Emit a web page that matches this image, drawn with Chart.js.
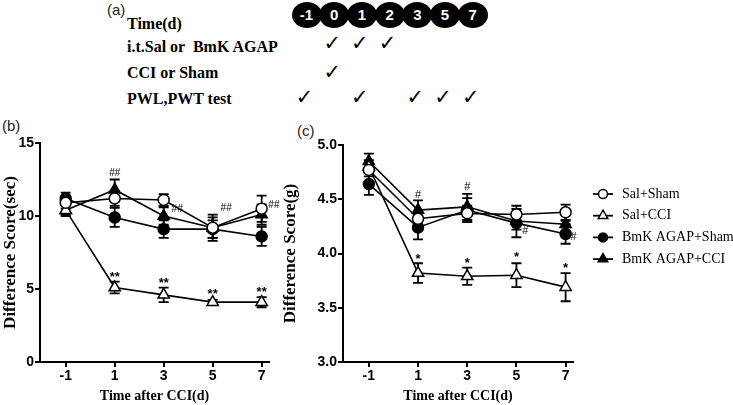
<!DOCTYPE html>
<html lang="en">
<head>
<meta charset="UTF-8">
<title>BmK AGAP – PWL / PWT difference scores</title>
<script src="https://cdn.jsdelivr.net/npm/chart.js"></script>
<style>
    body { margin: 0; background: #fff; width: 733px; height: 405px; position: relative; overflow: hidden;
           font-family: 'Liberation Sans', Arial, sans-serif; color: #000; }
    canvas { position: absolute; }
    .panel-label { position: absolute; font-size: 15px; color: #222; }
    .row-label { position: absolute; left: 127px; font-family: 'Liberation Serif', serif; font-weight: bold;
                 font-size: 16px; white-space: pre; transform: translateY(-50%); }
    .day { position: absolute; width: 30px; height: 26px; border-radius: 50%; background: #000; color: #fff;
           font-weight: bold; font-size: 15px; text-align: center; line-height: 26px; transform: translate(-50%, -50%); }
    .check { position: absolute; font-family: 'DejaVu Sans', sans-serif; font-weight: bold; font-size: 21px;
             transform: translate(-50%, -50%); }
</style>
</head>
<body>
    <div class="panel-label" style="left:107px; top:1px;">(a)</div>
    <div class="panel-label" style="left:2px; top:117px;">(b)</div>
    <div class="panel-label" style="left:297px; top:122px;">(c)</div>
    <div id="timeline"></div>
    <canvas id="chartB" width="285" height="295" style="left:0; top:110px;"></canvas>
    <canvas id="chartC" width="453" height="295" style="left:280px; top:110px;"></canvas>

<script>
    // ---- panel (a): protocol timeline ----
    const timelineDays = ['-1', '0', '1', '2', '3', '5', '7'];
    const rowLabels = ['Time(d)', 'i.t.Sal or  BmK AGAP', 'CCI or Sham', 'PWL,PWT test'];
    const rowChecks = [['0', '1', '2'], ['0'], ['-1', '1', '3', '5', '7']];

    // ---- shared x axis ----
    const days = [-1, 1, 3, 5, 7];
    const seriesNames = ['Sal+Sham', 'Sal+CCI', 'BmK AGAP+Sham', 'BmK AGAP+CCI'];

    // ---- panel (b): thermal, sec ----
    const pwlSalSham = [10.9, 11.2, 11.1, 9.2, 10.5];
    const pwlSalShamErr = [0.4, 0.5, 0.4, 0.7, 0.9];
    const pwlSalCci = [10.4, 5.1, 4.6, 4.1, 4.1];
    const pwlSalCciErr = [0.3, 0.4, 0.5, 0.15, 0.35];
    const pwlAgapSham = [11.2, 9.9, 9.1, 9.1, 8.6];
    const pwlAgapShamErr = [0.4, 0.65, 0.6, 0.6, 0.65];
    const pwlAgapCci = [10.4, 11.8, 10.0, 9.2, 10.1];
    const pwlAgapCciErr = [0.4, 0.7, 0.6, 0.9, 0.7];
    const yTicksB = [0, 5, 10, 15];
    const sigB = [
        { text: '##', x: 1, y: 12.9 }, { text: '##', x: 3.55, y: 10.45 },
        { text: '##', x: 5.55, y: 10.55 }, { text: '##', x: 7.5, y: 10.75 },
        { text: '**', x: 1, y: 5.8 }, { text: '**', x: 3, y: 5.35 },
        { text: '**', x: 5, y: 4.6 }, { text: '**', x: 7, y: 4.75 }
    ];

    // ---- panel (c): mechanical, g ----
    const pwtSalSham = [4.77, 4.32, 4.37, 4.36, 4.38];
    const pwtSalShamErr = [0.06, 0.06, 0.07, 0.08, 0.07];
    const pwtSalCci = [4.80, 3.82, 3.79, 3.80, 3.69];
    const pwtSalCciErr = [0.06, 0.09, 0.08, 0.11, 0.13];
    const pwtAgapSham = [4.64, 4.24, 4.40, 4.28, 4.18];
    const pwtAgapShamErr = [0.10, 0.11, 0.11, 0.13, 0.09];
    const pwtAgapCci = [4.85, 4.40, 4.43, 4.30, 4.27];
    const pwtAgapCciErr = [0.07, 0.09, 0.12, 0.08, 0.03];
    const yTicksC = [3.0, 3.5, 4.0, 4.5, 5.0];
    const sigC = [
        { text: '#', x: 1, y: 4.54 }, { text: '#', x: 3, y: 4.61 },
        { text: '#', x: 5.36, y: 4.21 }, { text: '#', x: 7.32, y: 4.15 },
        { text: '*', x: 1, y: 3.95 }, { text: '*', x: 3, y: 3.91 },
        { text: '*', x: 5, y: 3.96 }, { text: '*', x: 7, y: 3.86 }
    ];

    // build the timeline
    const tl = document.getElementById('timeline');
    const dayX = d => 306.5 + timelineDays.indexOf(d) * 27.7;
    timelineDays.forEach(d => {
        const el = document.createElement('div');
        el.className = 'day';
        el.textContent = d;
        el.style.left = dayX(d) + 'px';
        el.style.top = '15px';
        tl.appendChild(el);
    });
    const rowY = [24, 47, 73, 99];
    const checkY = [43, 72, 97];
    rowLabels.forEach((t, i) => {
        const el = document.createElement('div');
        el.className = 'row-label';
        el.textContent = t;
        el.style.top = rowY[i] + 'px';
        tl.appendChild(el);
    });
    rowChecks.forEach((row, i) => {
        row.forEach(d => {
            const el = document.createElement('div');
            el.className = 'check';
            el.textContent = '\u2713';
            el.style.left = (dayX(d) - 2) + 'px';
            el.style.top = checkY[i] + 'px';
            tl.appendChild(el);
        });
    });

    // error bars (mean ± SEM)
    const errorBars = {
        id: 'errorBars',
        beforeDatasetsDraw(chart) {
            const { ctx, scales: { x, y } } = chart;
            ctx.save();
            ctx.strokeStyle = '#000';
            ctx.lineWidth = 1.8;
            chart.data.datasets.forEach(ds => {
                ds.data.forEach((p, i) => {
                    const e = ds.err[i];
                    const px = x.getPixelForValue(p.x);
                    const top = y.getPixelForValue(p.y + e);
                    const bot = y.getPixelForValue(p.y - e);
                    ctx.beginPath();
                    ctx.moveTo(px, top); ctx.lineTo(px, bot);
                    ctx.moveTo(px - 5, top); ctx.lineTo(px + 5, top);
                    ctx.moveTo(px - 5, bot); ctx.lineTo(px + 5, bot);
                    ctx.stroke();
                });
            });
            ctx.restore();
        }
    };

    const sigMarks = {
        id: 'sigMarks',
        afterDatasetsDraw(chart, args, opts) {
            const { ctx, scales: { x, y } } = chart;
            ctx.save();
            ctx.fillStyle = '#000';
            ctx.textAlign = 'center';
            ctx.textBaseline = 'middle';
            opts.items.forEach(it => {
                ctx.font = it.text.startsWith('#') ? opts.hashFont : opts.starFont;
                ctx.fillText(it.text, x.getPixelForValue(it.x), y.getPixelForValue(it.y));
            });
            ctx.restore();
        }
    };

    const sideLegend = {
        id: 'sideLegend',
        afterDraw(chart, args, opts) {
            if (!opts.show) return;
            const ctx = chart.ctx;
            ctx.save();
            chart.data.datasets.forEach((ds, i) => {
                const y = opts.top + i * opts.gap;
                ctx.strokeStyle = '#000';
                ctx.lineWidth = 1.8;
                ctx.beginPath();
                ctx.moveTo(opts.left, y); ctx.lineTo(opts.left + 20, y);
                ctx.stroke();
                ctx.fillStyle = ds.pointBackgroundColor;
                ctx.lineWidth = 1.5;
                Chart.helpers.drawPoint(ctx, { pointStyle: ds.pointStyle, radius: ds.pointStyle === 'triangle' ? 5.5 : 4.5, rotation: 0, borderWidth: 1.5 }, opts.left + 10, y);
                ctx.fillStyle = '#000';
                ctx.font = "14px 'Liberation Serif'";
                ctx.textAlign = 'left';
                ctx.textBaseline = 'middle';
                ctx.fillText(ds.label, opts.left + 29, y);
            });
            ctx.restore();
        }
    };

    const markerStyles = [
        { pointStyle: 'circle', fill: '#fff', radius: 5.5 },
        { pointStyle: 'triangle', fill: '#fff', radius: 6.5 },
        { pointStyle: 'circle', fill: '#000', radius: 5.5 },
        { pointStyle: 'triangle', fill: '#000', radius: 6.5 }
    ];

    function makeDatasets(values, errors) {
        return values.map((vals, i) => ({
            label: seriesNames[i],
            data: vals.map((v, j) => ({ x: days[j], y: v })),
            err: errors[i],
            borderColor: '#000',
            borderWidth: 1.6,
            pointStyle: markerStyles[i].pointStyle,
            pointRadius: markerStyles[i].radius,
            pointBackgroundColor: markerStyles[i].fill,
            pointBorderColor: '#000',
            pointBorderWidth: 1.5,
            tension: 0
        }));
    }

    function makePanel(id, cfg) {
        const tickFont = { family: 'Liberation Sans', size: 14, weight: 'bold' };
        const xTitleFont = { family: 'Liberation Serif', size: 14, weight: 'bold' };
        const yTitleFont = { family: 'Liberation Serif', size: 17, weight: 'bold' };
        return new Chart(document.getElementById(id), {
            type: 'line',
            data: { datasets: makeDatasets(cfg.values, cfg.errors) },
            options: {
                responsive: false,
                animation: false,
                layout: { padding: { top: cfg.padTop, right: cfg.padRight, left: 0, bottom: 0 } },
                plugins: {
                    legend: { display: false },
                    tooltip: { enabled: false },
                    sigMarks: { items: cfg.sig, hashFont: cfg.hashFont, starFont: cfg.starFont },
                    sideLegend: { show: !!cfg.legend, ...(cfg.legend || {}) }
                },
                scales: {
                    x: {
                        type: 'linear', min: -2.05, max: 7.3,
                        afterBuildTicks: s => { s.ticks = days.map(v => ({ value: v })); },
                        afterFit: s => { s.height = 43; },
                        border: { color: '#000', width: 2 },
                        grid: { drawOnChartArea: false, drawTicks: true, tickLength: 5, color: '#000', lineWidth: 2 },
                        ticks: { color: '#000', font: tickFont, padding: 1, maxRotation: 0 },
                        title: { display: true, text: 'Time after CCI(d)', color: '#000', font: xTitleFont, padding: { top: 1, bottom: 0 } }
                    },
                    y: {
                        min: cfg.yMin, max: cfg.yMax,
                        afterBuildTicks: s => { s.ticks = cfg.yTicks.map(v => ({ value: v })); },
                        afterFit: s => { s.width = cfg.yWidth; },
                        border: { color: '#000', width: 2 },
                        grid: { drawOnChartArea: false, drawTicks: true, tickLength: 5, color: '#000', lineWidth: 2 },
                        ticks: { color: '#000', font: tickFont, padding: 1, callback: cfg.yFormat },
                        title: { display: true, text: cfg.yTitle, color: '#000', font: yTitleFont, padding: { top: 0, bottom: 1 } }
                    }
                }
            },
            plugins: [errorBars, sigMarks, sideLegend]
        });
    }

    makePanel('chartB', {
        values: [pwlSalSham, pwlSalCci, pwlAgapSham, pwlAgapCci],
        errors: [pwlSalShamErr, pwlSalCciErr, pwlAgapShamErr, pwlAgapCciErr],
        yMin: 0, yMax: 15, yTicks: yTicksB, yFormat: v => String(v),
        yTitle: 'Difference Score(sec)', yWidth: 40,
        padTop: 33, padRight: 16,
        sig: sigB, hashFont: "10px 'Liberation Sans'", starFont: "bold 13px 'Liberation Sans'"
    });

    makePanel('chartC', {
        values: [pwtSalSham, pwtSalCci, pwtAgapSham, pwtAgapCci],
        errors: [pwtSalShamErr, pwtSalCciErr, pwtAgapShamErr, pwtAgapCciErr],
        yMin: 3, yMax: 5, yTicks: yTicksC, yFormat: v => v.toFixed(1),
        yTitle: 'Difference Score(g)', yWidth: 63,
        padTop: 35, padRight: 160,
        sig: sigC, hashFont: "11px 'Liberation Sans'", starFont: "bold 13px 'Liberation Sans'",
        legend: { left: 313, top: 84, gap: 21.7 }
    });
</script>
</body>
</html>
